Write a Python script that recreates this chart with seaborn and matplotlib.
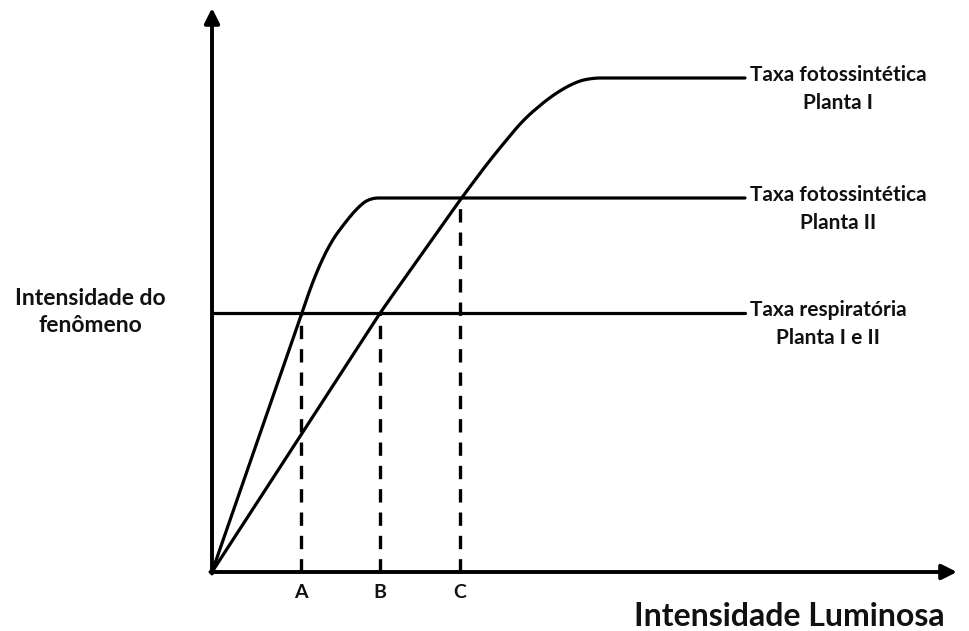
import numpy as np
import pandas as pd
import matplotlib
matplotlib.use('Agg')
import matplotlib.pyplot as plt
import seaborn as sns

sns.set_style('white')
plt.rcParams['font.family'] = ['Lato', 'DejaVu Sans']

# curves (x = light intensity, y = rate), arbitrary units
planta1_x = [0, 168, 248, 278, 311, 338, 361, 378, 533]
planta1_y = [0, 259, 372, 412, 452, 475, 489, 494, 494]
planta2_x = [0, 90, 101, 118, 135, 148, 158, 533]
planta2_y = [0, 259, 292, 329, 352, 367, 374, 374]
resp_x = [0, 533]
resp_y = [259, 259]

pontos_nome = ['A', 'B', 'C']
pontos_x = [89, 168, 248]
pontos_y = [259, 259, 374]

rotulos = ['Taxa fotossintética\nPlanta I', 'Taxa fotossintética\nPlanta II',
           'Taxa respiratória\nPlanta I e II']
rotulos_y = [494, 374, 259]


def suaviza(xv, yv, k):
    xs = np.linspace(min(xv), max(xv), 800)
    ys = np.interp(xs, xv, yv)
    ys_s = np.convolve(np.pad(ys, k, mode='edge'), np.ones(2 * k + 1) / (2 * k + 1), mode='same')[k:-k]
    ys_s[:k] = ys[:k]
    return xs, ys_s


fig = plt.figure(figsize=(9.7, 6.31), dpi=100)
ax = fig.add_axes([0, 0, 1, 1])

x1, y1 = suaviza(planta1_x, planta1_y, 16)
x2, y2 = suaviza(planta2_x, planta2_y, 12)
sns.lineplot(x=x1, y=y1, color='black', lw=2.3, ax=ax, sort=False)
sns.lineplot(x=x2, y=y2, color='black', lw=2.3, ax=ax, sort=False)
sns.lineplot(x=resp_x, y=resp_y, color='black', lw=2.3, ax=ax, sort=False)

# dashed guides
for nome, px, py in zip(pontos_nome, pontos_x, pontos_y):
    ax.plot([px, px], [0, py], color='black', lw=2.4, ls=(0, (4, 3)))
    ax.text(px, -20, nome, ha='center', va='center', fontsize=14, fontweight='bold', color='#111')

ax.set_xlim(-212, 758)
ax.set_ylim(-59, 572)
ax.axis('off')

# axes with arrows
seta = dict(arrowstyle='-|>,head_length=0.9,head_width=0.45', color='black', lw=2.8,
            shrinkA=0, shrinkB=0)
ax.annotate('', xy=(0, 564), xytext=(0, -1.5), xycoords='data', textcoords='data', arrowprops=seta)
ax.annotate('', xy=(745, 0), xytext=(-1.5, 0), xycoords='data', textcoords='data', arrowprops=seta)

for t, y in zip(rotulos, rotulos_y):
    ax.text(538, y + 13, t, ha='left', va='top', fontsize=15, fontweight='bold',
            multialignment='center', color='#111', linespacing=1.5)

ax.text(-122, 260, 'Intensidade do\nfenômeno', ha='center', va='center', fontsize=16.5,
        fontweight='bold', multialignment='center', color='#111', linespacing=1.4)
ax.text(577, -45, 'Intensidade Luminosa', ha='center', va='center', fontsize=23,
        fontweight='bold', color='#111')

fig.savefig('out.png', dpi=100)
